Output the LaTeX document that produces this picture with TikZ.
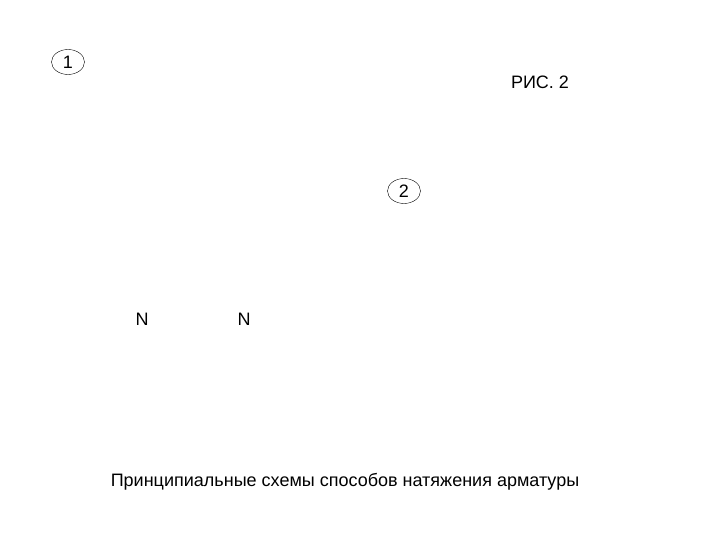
\documentclass[tikz,border=0pt]{standalone}
\usepackage{fontspec}
\setmainfont{Liberation Sans}
\usetikzlibrary{shapes.geometric}

\begin{document}
\begin{tikzpicture}[x=1pt,y=-1pt]
      \tikzset{
        every node/.style={font=\fontsize{18}{21}\selectfont,inner sep=0pt},
        nummark/.style={ellipse,draw,thin,minimum width=33pt,minimum height=25pt}
      }
      \useasboundingbox (0,0) rectangle (720,540);

      \node[nummark] (n1) at (68,62) {1};
      \node (fig) at (540,82) {РИС. 2};
      \node[nummark] (n2) at (404,191) {2};
      \node (forceA) at (142,319) {N};
      \node (forceB) at (244,319) {N};
      \node (caption) at (345,482) {Принципиальные схемы способов натяжения арматуры};
\end{tikzpicture}
\end{document}
